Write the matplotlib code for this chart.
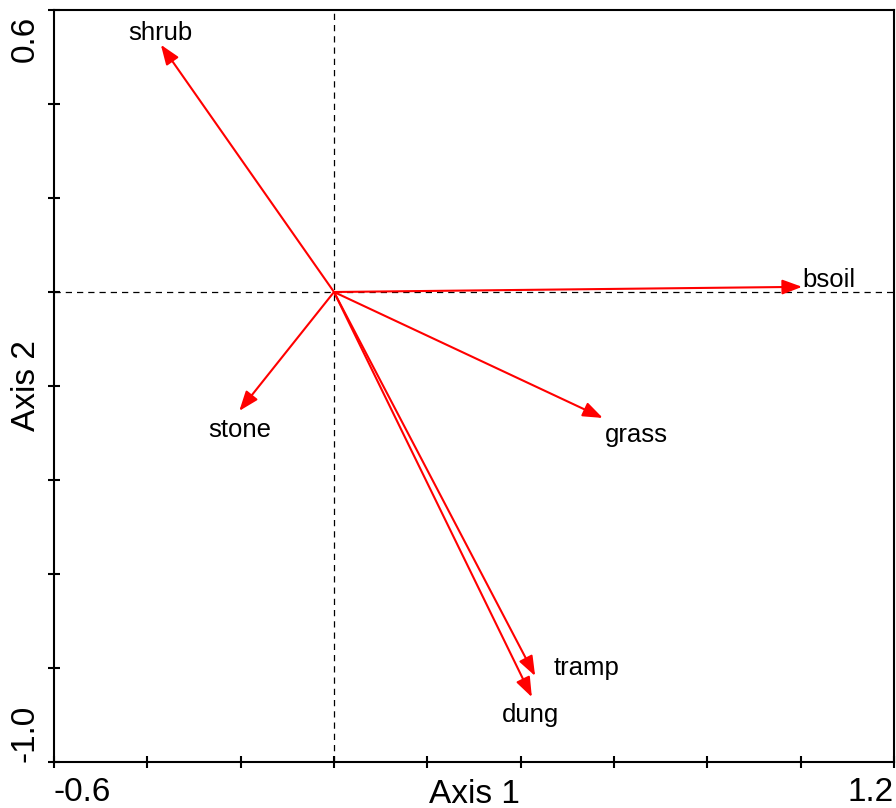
import numpy as np
import matplotlib
matplotlib.use("Agg")
import matplotlib.pyplot as plt
from matplotlib.transforms import ScaledTranslation

plt.rcParams['font.family'] = ['Liberation Sans', 'DejaVu Sans']

# biplot vectors (arrow tips) and label anchors
names = ["shrub", "bsoil", "stone", "grass", "tramp", "dung"]
ax1 = [-0.371, 1.003, -0.203, 0.576, 0.431, 0.424]
ax2 = [0.526, 0.011, -0.253, -0.268, -0.817, -0.862]
lab_x = [-0.373, 1.061, -0.201, 0.647, 0.541, 0.422]
lab_y = [0.551, 0.026, -0.294, -0.305, -0.800, -0.899]

xlim = (-0.6, 1.2)
ylim = (-1.0, 0.6)
xminor = [-0.4, -0.2, 0.0, 0.2, 0.4, 0.6, 0.8, 1.0]
yminor = [-0.8, -0.6, -0.4, -0.2, 0.0, 0.2, 0.4]

fig = plt.figure(figsize=(8.96, 8.08), dpi=100)
ax = fig.add_axes([54 / 896, 46 / 808, 840 / 896, 752 / 808])
ax.set_xlim(*xlim)
ax.set_ylim(*ylim)

ax.axhline(0, color="black", lw=0.9, ls=(0, (5, 4)), zorder=1)
ax.axvline(0, color="black", lw=0.9, ls=(0, (5, 4)), zorder=1)

for name, x, y, lx, ly in zip(names, ax1, ax2, lab_x, lab_y):
    ax.annotate("", xy=(x, y), xytext=(0, 0),
                arrowprops=dict(arrowstyle="-|>,head_length=12,head_width=4.5",
                                mutation_scale=1, color="red", lw=1.5,
                                shrinkA=0, shrinkB=0), zorder=3)
    ax.text(lx, ly, name, ha="center", va="center", fontsize=18.5)

for s in ax.spines.values():
    s.set_linewidth(1.5)

ax.set_xticks(list(xlim))
ax.set_xticklabels(["-0.6", "1.2"])
ax.set_xticks(xminor, minor=True)
ax.set_yticks(list(ylim))
ax.set_yticklabels(["-1.0", "0.6"], rotation=90)
ax.set_yticks(yminor, minor=True)
ax.tick_params(which="both", direction="inout", length=9, width=1.5,
               labelsize=24)
ax.tick_params(axis="x", pad=6)
ax.tick_params(axis="y", pad=5)

xl = ax.get_xticklabels()
xl[0].set_ha("left")
xl[1].set_ha("right")
yl = ax.get_yticklabels()
yl[0].set_va("bottom")
yl[1].set_va("top")
# nudge the top label down a little, as in the original
yl[1].set_transform(yl[1].get_transform()
                    + ScaledTranslation(0, -4 / 72, fig.dpi_scale_trans))

ax.set_xlabel("Axis 1", fontsize=24)
ax.xaxis.set_label_coords(0.5, -0.022)
ax.set_ylabel("Axis 2", fontsize=24)
ax.yaxis.set_label_coords(-0.014, 0.5)
ax.xaxis.label.set_va("top")
ax.yaxis.label.set_va("bottom")

fig.savefig("out.png", dpi=100)
